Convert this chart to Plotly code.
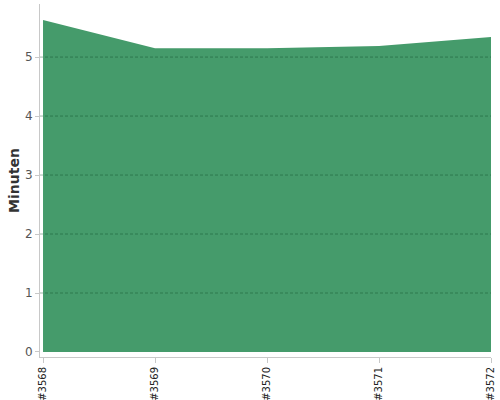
import plotly.graph_objects as go

# Data
puzzles = ['#3568', '#3569', '#3570', '#3571', '#3572']
minutes = [5.63, 5.15, 5.15, 5.19, 5.34]
y_ticks = [0, 1, 2, 3, 4, 5]

fill_green = '#459b6b'
grid_green = 'rgba(10,70,35,0.4)'

fig = go.Figure()
fig.add_trace(go.Scatter(
    x=list(range(len(puzzles))), y=minutes,
    mode='lines', fill='tozeroy',
    line=dict(width=0, color=fill_green),
    fillcolor=fill_green,
    hoverinfo='skip',
))

# gridlines drawn over the area like in the reference
for v in y_ticks[1:]:
    fig.add_hline(y=v, line=dict(color=grid_green, width=1, dash='3px,2px'), layer='above')

fig.update_layout(
    width=500, height=400,
    margin=dict(l=40, r=9, t=4, b=43),
    paper_bgcolor='white', plot_bgcolor='white',
    showlegend=False,
    font=dict(family='DejaVu Sans', color='#444'),
)
fig.update_xaxes(
    range=[-0.027, 4],
    tickvals=list(range(len(puzzles))), ticktext=puzzles,
    tickangle=-90, tickfont=dict(size=10, color='#222'),
    showgrid=False, zeroline=False,
    showline=True, linecolor='#c8c8c8', linewidth=1,
    ticks='outside', ticklen=5, tickcolor='#c8c8c8',
    automargin=False,
)
fig.update_yaxes(
    range=[-0.085, 5.9],
    tickvals=y_ticks,
    tickfont=dict(size=12, color='#555'),
    showgrid=False, zeroline=False,
    showline=True, linecolor='#c8c8c8', linewidth=1,
    ticks='outside', ticklen=4, tickcolor='#c8c8c8',
    title=dict(text='Minuten', font=dict(size=14, color='#333', weight='bold'), standoff=2),
    automargin=False,
)

# drop the browser's default body margin so the chart sits at the page corner
fig.write_html("out.html", config={'displayModeBar': False},
               post_script="document.body.style.margin='0';")
